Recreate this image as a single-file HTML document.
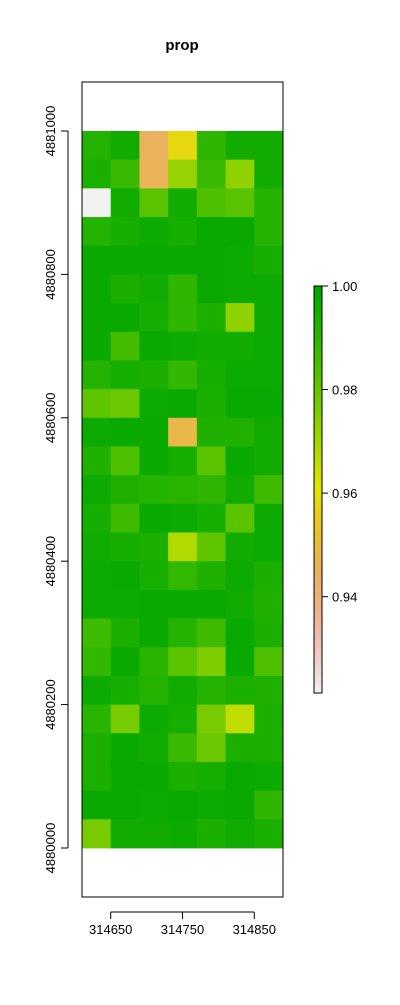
<!DOCTYPE html>
<html><head><meta charset="utf-8"><style>
body{margin:0;background:#fff;font-family:"Liberation Sans",sans-serif}
svg text{font-family:"Liberation Sans",sans-serif}
</style></head><body>
<svg id="chart" width="400" height="1000">
<text x="182" y="50" text-anchor="middle" font-size="15" font-weight="bold">prop</text>
<g id="cells"></g>
<rect x="82" y="82" width="201" height="815" fill="none" stroke="#000" stroke-width="1"/>
<g id="axes"></g>
<g id="legend"></g>
</svg>
<script>
const xTicks=[314650,314750,314850];
const yTicks=[4880000,4880200,4880400,4880600,4880800,4881000];
const legendTicks=[0.94,0.96,0.98,1.00];
const xMin=314610, xMax=314890, yMin=4880000, yMax=4881000, cellSize=40;
const vMin=0.9214, vMax=1.0;
const rows=[
[0.992,0.996,0.945,0.958,0.990,0.996,0.996],
[0.994,0.988,0.946,0.972,0.988,0.973,0.996],
[0.9214,0.996,0.982,0.996,0.984,0.982,0.992],
[0.992,0.995,0.997,0.995,0.998,0.998,0.992],
[0.998,0.998,0.998,0.998,0.998,0.997,0.995],
[0.998,0.994,0.996,0.990,0.998,0.997,0.997],
[0.998,0.998,0.995,0.990,0.994,0.973,0.997],
[0.998,0.986,0.998,0.997,0.996,0.996,0.997],
[0.992,0.995,0.994,0.989,0.995,0.997,0.997],
[0.981,0.979,0.997,0.998,0.994,0.998,0.998],
[0.997,0.998,0.998,0.948,0.993,0.993,0.996],
[0.993,0.984,0.998,0.995,0.982,0.998,0.996],
[0.997,0.993,0.992,0.991,0.990,0.996,0.987],
[0.995,0.987,0.998,0.997,0.995,0.982,0.997],
[0.996,0.995,0.994,0.968,0.981,0.996,0.997],
[0.997,0.998,0.995,0.989,0.993,0.997,0.994],
[0.997,0.997,0.998,0.998,0.998,0.996,0.993],
[0.987,0.994,0.998,0.992,0.987,0.998,0.994],
[0.989,0.998,0.991,0.982,0.976,0.998,0.984],
[0.997,0.995,0.992,0.996,0.992,0.994,0.993],
[0.991,0.977,0.997,0.995,0.977,0.966,0.994],
[0.994,0.998,0.996,0.988,0.979,0.994,0.994],
[0.994,0.998,0.998,0.994,0.995,0.998,0.997],
[0.998,0.998,0.997,0.998,0.997,0.998,0.990],
[0.977,0.996,0.996,0.997,0.994,0.996,0.994]
];
const NS="http://www.w3.org/2000/svg";
const px=x=>82+(x-xMin)*(201/(xMax-xMin));
const py=y=>848-(y-yMin)*(717/(yMax-yMin));
function hsv(h,s,v){const f=(n)=>{const k=(n+h/60)%6;return v-v*s*Math.max(Math.min(k,4-k,1),0)};
return `rgb(${Math.round(f(5)*255)},${Math.round(f(3)*255)},${Math.round(f(1)*255)})`;}
function col(v){let t=(v-vMin)/(vMax-vMin);t=Math.max(0,Math.min(1,t));const u=1-t;
if(u<=0.5){const a=u/0.5;return hsv(120-60*a,1,0.65+0.25*a);}
const a=(u-0.5)/0.5;return hsv(60-60*a,1-a,0.9+0.05*a);}
function mk(tag,attrs,parent,txt){const e=document.createElementNS(NS,tag);for(const k in attrs)e.setAttribute(k,attrs[k]);if(txt!==undefined)e.textContent=txt;parent.appendChild(e);return e;}
const cells=document.getElementById('cells');
rows.forEach((r,i)=>r.forEach((v,j)=>{
const x0=px(xMin+j*cellSize),x1=px(xMin+(j+1)*cellSize);
const yTop=py(yMax-i*cellSize),yBot=py(yMax-(i+1)*cellSize);
const e=mk('rect',{x:x0,y:yTop,width:x1-x0+0.4,height:yBot-yTop+0.4,fill:col(v)},cells);


}));
const ax=document.getElementById('axes');
let l=mk('line',{x1:px(xTicks[0]),x2:px(xTicks[xTicks.length-1]),y1:912,y2:912,stroke:'#000'},ax);


xTicks.forEach(t=>{
const a=mk('line',{x1:px(t),x2:px(t),y1:912,y2:919,stroke:'#000'},ax);


const b=mk('text',{x:px(t),y:934,'text-anchor':'middle','font-size':13},ax,t);


});
l=mk('line',{x1:68,x2:68,y1:py(yTicks[0]),y2:py(yTicks[yTicks.length-1]),stroke:'#000'},ax);


yTicks.forEach(t=>{
const a=mk('line',{x1:61,x2:68,y1:py(t),y2:py(t),stroke:'#000'},ax);


const b=mk('text',{x:0,y:0,'text-anchor':'middle','font-size':13,transform:`translate(55,${py(t)}) rotate(-90)`},ax,t);


});
const lg=document.getElementById('legend');
const lTop=286,lBot=693;
const ly=v=>lTop+(vMax-v)*(lBot-lTop)/(vMax-vMin);
for(let k=0;k<200;k++){
const v0=vMax-k*(vMax-vMin)/200;
const r=mk('rect',{x:314,y:ly(v0),width:8,height:(lBot-lTop)/200+0.5,fill:col(v0-(vMax-vMin)/400)},lg);


}
l=mk('rect',{x:314,y:lTop,width:8,height:lBot-lTop,fill:'none',stroke:'#000'},lg);


legendTicks.forEach(t=>{
const a=mk('line',{x1:322,x2:328,y1:ly(t),y2:ly(t),stroke:'#000'},lg);


const b=mk('text',{x:332,y:ly(t)+5,'font-size':13},lg,t.toFixed(2));


});
</script>
</body></html>
